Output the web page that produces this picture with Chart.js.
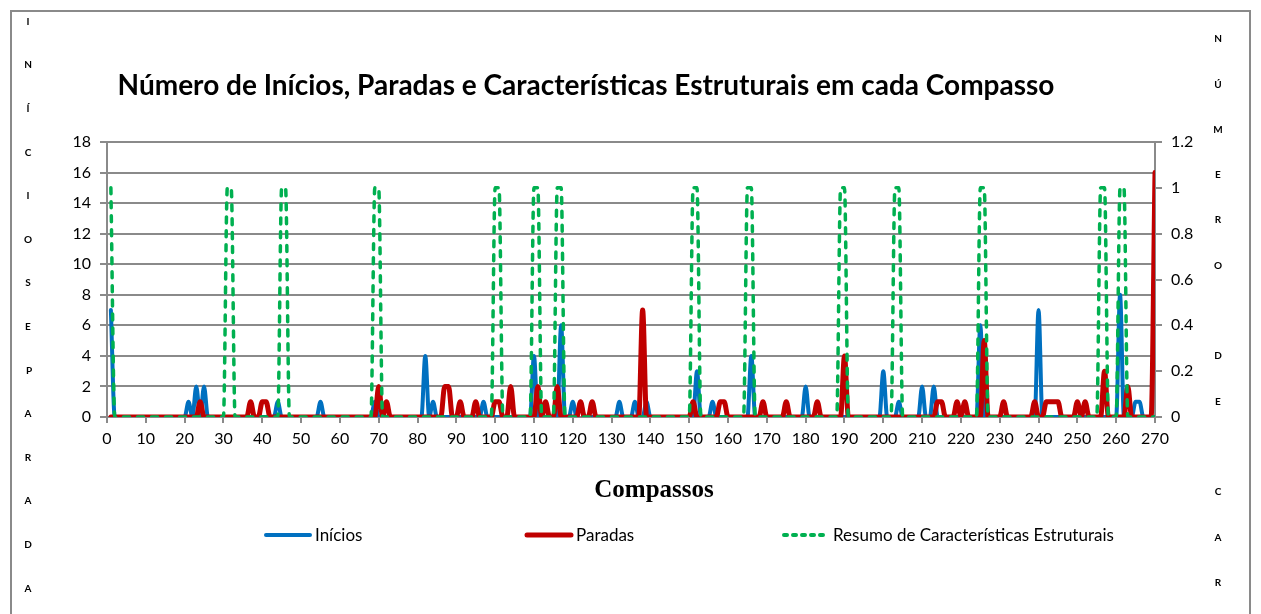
<!DOCTYPE html>
<html lang="pt">
<head>
<meta charset="utf-8">
<title>Número de Inícios, Paradas e Características Estruturais em cada Compasso</title>
<script src="https://cdn.jsdelivr.net/npm/chart.js@4.4.1/dist/chart.umd.min.js"></script>
<style>
    html, body { margin: 0; padding: 0; background: #fff; }
    #wrap { width: 1261px; height: 614px; position: relative; }
</style>
</head>
<body>
<div id="wrap"><canvas id="compassoChart" width="1261" height="614"></canvas></div>
<script>
// Values.
// Only measures (compassos) with a non-zero value are listed; every other measure is 0.
const totalCompassos = 270;

const iniciosCompassos = [1, 21, 23, 25, 44, 55, 69, 82, 84, 97, 110, 117, 120, 122, 132, 136, 139,
    152, 156, 166, 180, 200, 204, 210, 213, 225, 240, 261, 265, 266];
const iniciosValores = [7, 1, 2, 2, 1, 1, 1, 4, 1, 1, 4, 6, 1, 1, 1, 1, 1,
    3, 1, 4, 2, 3, 1, 2, 2, 6, 7, 8, 1, 1];

const paradasCompassos = [24, 37, 40, 41, 70, 72, 87, 88, 91, 95, 100, 101, 104, 111, 113, 116, 122, 125,
    138, 151, 158, 159, 169, 175, 183, 190, 214, 215, 219, 221, 226, 231, 239, 242, 243, 244, 245,
    250, 252, 257, 263, 270];
const paradasValores = [1, 1, 1, 1, 2, 1, 2, 2, 1, 1, 1, 1, 2, 2, 1, 2, 1, 1,
    7, 1, 1, 1, 1, 1, 1, 4, 1, 1, 1, 1, 5, 1, 1, 1, 1, 1, 1,
    1, 1, 3, 2, 16];

const estruturaisCompassos = [1, 31, 32, 45, 46, 69, 70, 100, 101, 110, 111, 116, 117, 151, 152,
    165, 166, 189, 190, 203, 204, 225, 226, 256, 257, 261, 262];
const estruturaisValores = estruturaisCompassos.map(() => 1);

// Axis ranges / tick steps
const xMin = 0, xMax = 270, xStep = 10;
const yMin = 0, yMax = 18, yStep = 2;
const y1Min = 0, y1Max = 1.2, y1Step = 0.2;

const titulo = 'Número de Inícios, Paradas e Características Estruturais em cada Compasso';
const tituloX = 'Compassos';
const tituloEsquerdo = ['I', 'N', 'Í', 'C', 'I', 'O', 'S', 'E', ' P', 'A', 'R', 'A', 'D', 'A'];
const tituloDireito = ['N', 'Ú', 'M', 'E', 'R', 'O', '', 'D', 'E', '', 'C', 'A', 'R'];

// Turn the sparse lists into one point per measure
function buildSeries(compassos, valores) {
    const points = [];
    for (let c = 1; c <= totalCompassos; c++) {
        const i = compassos.indexOf(c);
        points.push({ x: c, y: i >= 0 ? valores[i] : 0 });
    }
    return points;
}

const gridColor = '#8a8a8a';
const tickFont = { family: 'Lato', size: 16 };

// Title, axis titles, legend and outer frame (Excel-like layout)
const overlayPlugin = {
    id: 'overlay',
    beforeDraw(chart) {
        const ctx = chart.ctx;
        ctx.save();
        ctx.fillStyle = '#fff';
        ctx.fillRect(0, 0, chart.width, chart.height);
        ctx.restore();
    },
    afterDraw(chart) {
        const ctx = chart.ctx;
        ctx.save();

        // outer frame
        ctx.strokeStyle = gridColor;
        ctx.lineWidth = 2;
        ctx.strokeRect(11, 11, 1239, 640);

        ctx.fillStyle = '#000';
        ctx.textBaseline = 'alphabetic';
        ctx.textAlign = 'center';

        // main title
        ctx.font = 'bold 28px Lato';
        ctx.fillText(titulo, 586, 95);

        // x axis title
        ctx.font = 'bold 25px "Liberation Serif"';
        ctx.fillText(tituloX, 654, 497);

        // stacked vertical axis titles
        ctx.font = 'bold 10px Lato';
        ctx.textBaseline = 'middle';
        tituloEsquerdo.forEach((ch, i) => ctx.fillText(ch, 28, 21.5 + i * 43.6));
        tituloDireito.forEach((ch, i) => ctx.fillText(ch, 1218, 39 + i * 45.3));

        // legend
        const legendX = [264, 525, 782];
        const legendY = 535;
        ctx.textAlign = 'left';
        ctx.font = '17px Lato';
        chart.data.datasets.forEach((ds, i) => {
            const x0 = legendX[i];
            ctx.save();
            ctx.strokeStyle = ds.borderColor;
            ctx.lineWidth = ds.legendWidth;
            ctx.lineCap = 'round';
            ctx.setLineDash(ds.borderDash ? [3, 6] : []);
            ctx.beginPath();
            ctx.moveTo(x0 + 2, legendY);
            ctx.lineTo(x0 + 46, legendY);
            ctx.stroke();
            ctx.restore();
            ctx.fillText(ds.label, x0 + 51, legendY + 1);
        });

        ctx.restore();
    }
};

new Chart(document.getElementById('compassoChart'), {
    type: 'line',
    data: {
        datasets: [
            {
                label: 'Inícios',
                data: buildSeries(iniciosCompassos, iniciosValores),
                borderColor: '#0070c0',
                borderWidth: 4,
                legendWidth: 4,
                cubicInterpolationMode: 'monotone',
                pointRadius: 0,
                borderCapStyle: 'round',
                borderJoinStyle: 'round',
                yAxisID: 'y',
                order: 2
            },
            {
                label: 'Paradas',
                data: buildSeries(paradasCompassos, paradasValores),
                borderColor: '#c00000',
                borderWidth: 5,
                legendWidth: 5,
                cubicInterpolationMode: 'monotone',
                pointRadius: 0,
                borderCapStyle: 'round',
                borderJoinStyle: 'round',
                yAxisID: 'y',
                order: 1
            },
            {
                label: 'Resumo de Características Estruturais',
                data: buildSeries(estruturaisCompassos, estruturaisValores),
                borderColor: '#00b050',
                borderWidth: 3.5,
                legendWidth: 4,
                borderDash: [6, 8],
                cubicInterpolationMode: 'monotone',
                pointRadius: 0,
                borderCapStyle: 'round',
                borderJoinStyle: 'round',
                yAxisID: 'y1',
                order: 0
            }
        ]
    },
    options: {
        responsive: false,
        animation: false,
        layout: {
            padding: { left: 57, right: 56, top: 142, bottom: 157 }
        },
        plugins: {
            legend: { display: false },
            title: { display: false },
            tooltip: { enabled: false }
        },
        scales: {
            x: {
                type: 'linear',
                min: xMin,
                max: xMax,
                afterFit: (scale) => { scale.height = 40; },
                ticks: {
                    stepSize: xStep,
                    autoSkip: false,
                    maxRotation: 0,
                    padding: 6,
                    color: '#000',
                    font: tickFont
                },
                grid: {
                    drawOnChartArea: false,
                    drawTicks: true,
                    tickLength: 6,
                    color: gridColor,
                    lineWidth: 2
                },
                border: { color: gridColor, width: 2 }
            },
            y: {
                position: 'left',
                min: yMin,
                max: yMax,
                afterFit: (scale) => { scale.width = 50; },
                ticks: {
                    stepSize: yStep,
                    padding: 9,
                    color: '#000',
                    font: tickFont
                },
                grid: {
                    color: gridColor,
                    lineWidth: 2,
                    tickLength: 7
                },
                border: { color: gridColor, width: 2 }
            },
            y1: {
                position: 'right',
                min: y1Min,
                max: y1Max,
                afterFit: (scale) => { scale.width = 50; },
                ticks: {
                    stepSize: y1Step,
                    padding: 9,
                    color: '#000',
                    font: tickFont,
                    callback: (v) => String(Math.round(v * 10) / 10)
                },
                grid: {
                    drawOnChartArea: false,
                    color: gridColor,
                    lineWidth: 2,
                    tickLength: 7
                },
                border: { color: gridColor, width: 2 }
            }
        }
    },
    plugins: [overlayPlugin]
});
</script>
</body>
</html>
